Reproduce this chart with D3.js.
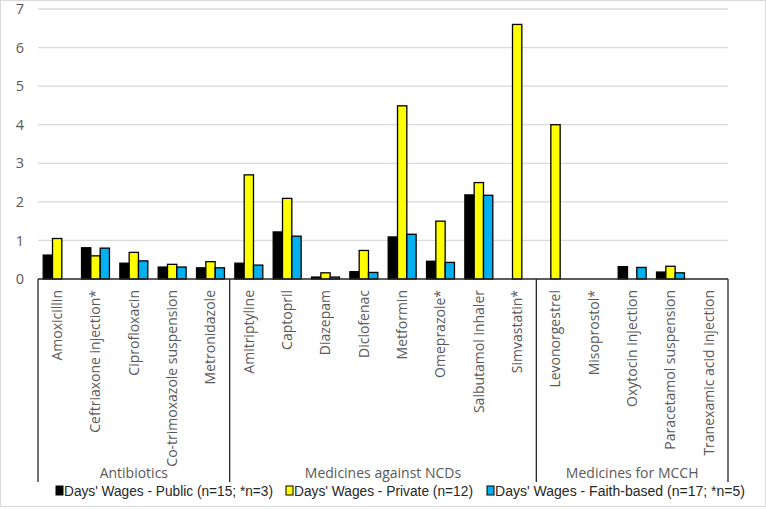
<!DOCTYPE html>
<html>
<head>
<meta charset="utf-8">
<script src="https://cdn.jsdelivr.net/npm/d3@7"></script>
<style>
  body { margin: 0; background: #fff; }
  svg { display: block; }
</style>
</head>
<body>
<svg id="chart" width="766" height="509"></svg>
<script>
// medicines, in display order
var medicines = ["Amoxicillin", "Ceftriaxone injection*", "Ciprofloxacin", "Co-trimoxazole suspension", "Metronidazole",
   "Amitriptyline", "Captopril", "Diazepam", "Diclofenac", "Metformin", "Omeprazole*", "Salbutamol inhaler", "Simvastatin*",
   "Levonorgestrel", "Misoprostol*", "Oxytocin injection", "Paracetamol suspension", "Tranexamic acid injection"];
var groups = ["Antibiotics", "Medicines against NCDs", "Medicines for MCCH"];
var groupSizes = [5, 8, 5];
var seriesNames = ["Days' Wages - Public (n=15; *n=3)", "Days' Wages - Private (n=12)", "Days' Wages - Faith-based (n=17; *n=5)"];
var seriesColors = ["#000000", "#ffff00", "#00b0f0"];
// null = no bar
var publicWages = [0.62, 0.81, 0.41, 0.31, 0.29, 0.41, 1.22, 0.05, 0.19, 1.09, 0.46, 2.18, null, null, null, 0.32, 0.18, null];
var privateWages = [1.05, 0.60, 0.69, 0.38, 0.45, 2.70, 2.09, 0.16, 0.74, 4.49, 1.50, 2.50, 6.60, 4.00, null, null, 0.33, null];
var faithWages = [null, 0.80, 0.47, 0.31, 0.29, 0.36, 1.11, 0.05, 0.17, 1.16, 0.43, 2.17, null, null, null, 0.30, 0.16, null];
var yTicks = [0, 1, 2, 3, 4, 5, 6, 7];

(function () {
   "use strict";
   var svg = d3.select("#chart"),
      left = 38, right = 728, top = 9, base = 279, boxBottom = 482,
      allSeries = [publicWages, privateWages, faithWages],
      x, sub, y, cat, groupStart = 0;

   // chart border
   svg.append("rect")
      .attr("x", 0.5).attr("y", 0.5)
      .attr("width", 765).attr("height", 506)
      .attr("fill", "#fff").attr("stroke", "#d9d9d9");

   x = d3.scaleBand().domain(d3.range(medicines.length)).range([left, right]);
   sub = d3.scaleBand().domain([0, 1, 2]).range([5.2, x.bandwidth() - 5.2]);
   y = d3.scaleLinear().domain([0, 7]).range([base, top]);

   //gridlines
   svg.append("g").selectAll("line").data(yTicks.slice(1)).enter().append("line")
      .attr("x1", left).attr("x2", right)
      .attr("y1", function (d) { return y(d); })
      .attr("y2", function (d) { return y(d); })
      .attr("stroke", "#d9d9d9").attr("stroke-width", 1.3);

   //y axis labels
   svg.append("g")
      .attr("transform", "translate(" + left + ",0)")
      .call(d3.axisLeft(y).tickValues(yTicks).tickFormat(d3.format("d")).tickSize(0).tickPadding(14))
      .call(function (g) { g.select(".domain").remove(); })
      .selectAll("text")
      .attr("font-family", "'Open Sans', sans-serif")
      .attr("font-size", 14.5)
      .attr("fill", "#595959");

   //bars
   allSeries.forEach(function (values, s) {
      svg.append("g").selectAll("rect")
         .data(values.map(function (v, i) { return {i: i, v: v}; }).filter(function (d) { return d.v !== null; }))
         .enter().append("rect")
         .attr("x", function (d) { return x(d.i) + sub(s); })
         .attr("y", function (d) { return y(d.v); })
         .attr("width", sub.bandwidth())
         .attr("height", function (d) { return base - y(d.v); })
         .attr("fill", seriesColors[s])
         .attr("stroke", "#000")
         .attr("stroke-width", 1.3);
   });

   //category box
   cat = svg.append("g");
   cat.append("line")
      .attr("x1", left).attr("x2", right).attr("y1", base).attr("y2", base)
      .attr("stroke", "#262626").attr("stroke-width", 1.3);

   groupSizes.forEach(function (n, g) {
      var x0 = x(groupStart),
         x1 = x(groupStart + n - 1) + x.bandwidth();
      cat.append("line")
         .attr("x1", x0).attr("x2", x0).attr("y1", base).attr("y2", boxBottom)
         .attr("stroke", "#262626").attr("stroke-width", 1.3);
      cat.append("text")
         .attr("x", (x0 + x1) / 2).attr("y", 478)
         .attr("text-anchor", "middle")
         .attr("font-family", "'Open Sans', sans-serif")
         .attr("font-size", 14)
         .attr("fill", "#595959")
         .text(groups[g]);
      groupStart += n;
   });
   cat.append("line")
      .attr("x1", right).attr("x2", right).attr("y1", base).attr("y2", boxBottom)
      .attr("stroke", "#262626").attr("stroke-width", 1.3);

   //medicine labels
   cat.selectAll(".med").data(medicines).enter().append("text")
      .attr("class", "med")
      .attr("transform", function (d, i) {
         return "translate(" + (x(i) + x.bandwidth() / 2) + ",290) rotate(-90)";
      })
      .attr("text-anchor", "end")
      .attr("dy", "0.35em")
      .attr("font-family", "'Open Sans', sans-serif")
      .attr("font-size", 14)
      .attr("fill", "#595959")
      .text(function (d) { return d; });

   //legend
   var legendX = [56, 286, 487],
      legendW = [209, 179, 250];
   var legend = svg.append("g").selectAll("g").data(seriesNames).enter().append("g")
      .attr("transform", function (d, i) { return "translate(" + legendX[i] + ",491)"; });
   legend.append("rect")
      .attr("x", 0).attr("y", -5).attr("width", 7).attr("height", 9)
      .attr("fill", function (d, i) { return seriesColors[i]; })
      .attr("stroke", "#000").attr("stroke-width", 1);
   legend.append("text")
      .attr("x", 8).attr("dy", "0.35em")
      .attr("font-family", "'Liberation Sans Narrow', 'Arial Narrow', 'Liberation Sans', sans-serif")
      .attr("font-size", 14)
      .attr("textLength", function (d, i) { return legendW[i]; })
      .attr("lengthAdjust", "spacingAndGlyphs")
      .attr("fill", "#262626")
      .text(function (d) { return d; });
}());
</script>
</body>
</html>
